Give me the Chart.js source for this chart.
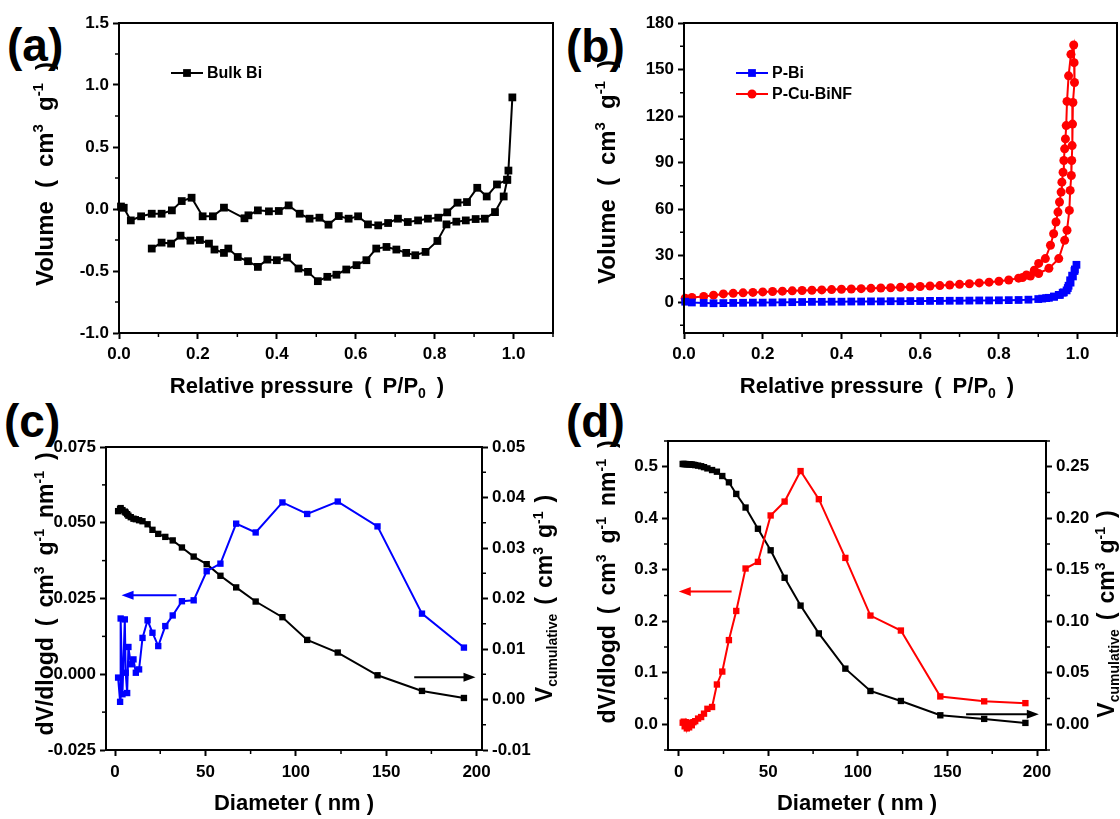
<!DOCTYPE html>
<html>
<head>
<meta charset="utf-8">
<script src="https://cdn.jsdelivr.net/npm/chart.js@4/dist/chart.umd.min.js"></script>
<style>
  html, body { margin: 0; padding: 0; background: #fff; }
  body { width: 1120px; height: 819px; position: relative; overflow: hidden; }
  canvas { position: absolute; }
  .tag { position: absolute; font: bold 46px "Liberation Sans", Arial, sans-serif; line-height: 46px; color: #000; }
</style>
</head>
<body>
<div class="tag" style="left:7px;top:22px">(a)</div>
<div class="tag" style="left:566px;top:23px">(b)</div>
<div class="tag" style="left:4px;top:398px">(c)</div>
<div class="tag" style="left:566px;top:398px">(d)</div>
<canvas id="ca" width="560" height="400" style="left:0;top:0"></canvas>
<canvas id="cb" width="560" height="400" style="left:560px;top:0"></canvas>
<canvas id="cc" width="560" height="419" style="left:0;top:400px"></canvas>
<canvas id="cd" width="560" height="419" style="left:560px;top:400px"></canvas>
<script>
// (a) Bulk Bi isotherm
const bulkAdsX = [0.083, 0.108, 0.132, 0.156, 0.181, 0.205, 0.228, 0.242, 0.266, 0.277, 0.301, 0.327, 0.352, 0.376, 0.400, 0.426, 0.455, 0.479, 0.504, 0.528, 0.551, 0.576, 0.602, 0.627, 0.652, 0.678, 0.703, 0.728, 0.751, 0.777, 0.807, 0.830, 0.855, 0.879, 0.904, 0.927, 0.953, 0.975, 0.984, 0.987, 0.997];
const bulkAdsY = [-0.319, -0.271, -0.279, -0.215, -0.255, -0.250, -0.279, -0.327, -0.354, -0.319, -0.387, -0.421, -0.467, -0.408, -0.413, -0.392, -0.480, -0.507, -0.582, -0.547, -0.530, -0.488, -0.453, -0.413, -0.319, -0.306, -0.327, -0.354, -0.373, -0.346, -0.258, -0.124, -0.102, -0.092, -0.081, -0.078, -0.025, 0.101, 0.236, 0.310, 0.900];
const bulkDesX = [0.005, 0.012, 0.030, 0.056, 0.083, 0.108, 0.134, 0.159, 0.184, 0.212, 0.238, 0.266, 0.318, 0.328, 0.352, 0.380, 0.405, 0.430, 0.458, 0.483, 0.508, 0.531, 0.557, 0.582, 0.606, 0.631, 0.657, 0.682, 0.707, 0.732, 0.758, 0.783, 0.809, 0.832, 0.858, 0.882, 0.908, 0.932, 0.958, 0.984];
const bulkDesY = [0.020, 0.010, -0.092, -0.059, -0.038, -0.038, -0.011, 0.064, 0.091, -0.059, -0.059, 0.011, -0.075, -0.051, -0.011, -0.019, -0.016, 0.029, -0.038, -0.078, -0.070, -0.126, -0.057, -0.078, -0.059, -0.124, -0.132, -0.113, -0.078, -0.105, -0.092, -0.078, -0.070, -0.027, 0.051, 0.056, 0.171, 0.101, 0.198, 0.236];

// (b) P-Bi and P-Cu-BiNF isotherms (adsorption then desorption)
const pBiX = [0.003, 0.02, 0.05, 0.075, 0.1, 0.125, 0.15, 0.175, 0.2, 0.225, 0.25, 0.275, 0.3, 0.325, 0.35, 0.375, 0.4, 0.425, 0.45, 0.475, 0.5, 0.525, 0.55, 0.575, 0.6, 0.625, 0.65, 0.675, 0.7, 0.725, 0.75, 0.775, 0.8, 0.825, 0.85, 0.875, 0.9, 0.92, 0.94, 0.955, 0.965, 0.975, 0.982, 0.988, 0.993, 0.997, 0.992, 0.986, 0.981, 0.977, 0.972, 0.962, 0.952, 0.94, 0.927, 0.91];
const pBiY = [0.2, -0.3, -0.6, -0.8, -0.7, -0.6, -0.5, -0.4, -0.4, -0.3, -0.2, -0.1, 0.0, 0.1, 0.1, 0.2, 0.2, 0.3, 0.3, 0.4, 0.4, 0.5, 0.5, 0.6, 0.6, 0.7, 0.7, 0.8, 0.8, 0.9, 1.0, 1.0, 1.1, 1.2, 1.3, 1.5, 1.9, 2.5, 3.4, 4.6, 6.2, 9.0, 12.5, 16.5, 21.0, 24.0, 20.0, 17.0, 14.0, 10.5, 7.5, 6.0, 4.6, 3.5, 2.7, 2.2];
const pCuX = [0.003, 0.02, 0.05, 0.075, 0.1, 0.125, 0.15, 0.175, 0.2, 0.225, 0.25, 0.275, 0.3, 0.325, 0.35, 0.375, 0.4, 0.425, 0.45, 0.475, 0.5, 0.525, 0.55, 0.575, 0.6, 0.625, 0.65, 0.675, 0.7, 0.725, 0.75, 0.775, 0.8, 0.825, 0.85, 0.87, 0.89, 0.901, 0.918, 0.931, 0.939, 0.945, 0.95, 0.954, 0.958, 0.96, 0.963, 0.965, 0.967, 0.969, 0.971, 0.973, 0.977, 0.983, 0.99, 0.991, 0.992, 0.988, 0.987, 0.986, 0.985, 0.984, 0.981, 0.979, 0.973, 0.967, 0.952, 0.927, 0.901, 0.88, 0.86];
const pCuY = [2.4, 2.9, 3.6, 4.4, 5.2, 5.6, 5.9, 6.2, 6.5, 6.8, 7.0, 7.2, 7.4, 7.6, 7.8, 8.0, 8.2, 8.4, 8.6, 8.8, 9.0, 9.2, 9.5, 9.7, 10.0, 10.3, 10.6, 11.0, 11.4, 11.8, 12.3, 12.8, 13.4, 14.2, 15.4, 17.5, 20.5, 24.9, 28.0, 36.6, 44.0, 51.6, 58.0, 64.5, 70.9, 77.3, 83.7, 91.3, 98.8, 105.2, 113.8, 129.4, 145.9, 159.8, 165.8, 154.4, 141.6, 128.7, 114.8, 100.9, 91.3, 81.6, 72.0, 59.1, 46.3, 39.8, 28.0, 21.7, 18.4, 16.8, 15.8];

// (c) P-Bi pore size distribution
const cDiam = [1.7, 2.8, 3.1, 4.1, 5.4, 5.9, 6.7, 7.4, 8.7, 10.2, 11.5, 13.3, 15.2, 18, 20.7, 23.9, 27.8, 31.9, 37, 43.5, 50.7, 58.3, 67, 77.8, 92.6, 106.3, 123.2, 145.2, 169.8, 193];
const cDvDlogd = [-0.0011, -0.0091, 0.0184, -0.0066, 0.0181, 0.0005, -0.0062, 0.009, 0.0033, 0.0049, 0.0005, 0.0016, 0.012, 0.0178, 0.0137, 0.0093, 0.0159, 0.0194, 0.0241, 0.0244, 0.034, 0.0365, 0.0497, 0.0468, 0.0567, 0.0529, 0.057, 0.0488, 0.02, 0.0088];
const cCumul = [0.0373, 0.0377, 0.0379, 0.0375, 0.0372, 0.037, 0.0367, 0.0364, 0.0361, 0.0358, 0.0357, 0.0355, 0.0353, 0.0347, 0.0336, 0.0328, 0.0322, 0.0315, 0.0301, 0.0283, 0.0268, 0.0245, 0.0222, 0.0194, 0.0163, 0.0118, 0.0093, 0.0048, 0.0017, 0.0003];

// (d) P-Cu-BiNF pore size distribution
const dDiam = [2.2, 2.8, 3.3, 3.9, 4.5, 5.1, 5.8, 6.5, 7.3, 8.2, 9.2, 10.8, 12.5, 14.1, 16, 18.6, 21.3, 24.3, 28, 32.1, 37.3, 44.2, 51.3, 59.1, 68, 78.2, 93, 107, 124, 146, 170.5, 193.5];
const dDvDlogd = [0.003, 0.005, -0.004, 0.004, -0.008, 0.002, -0.006, 0.003, -0.002, 0.004, 0.006, 0.011, 0.014, 0.0206, 0.03, 0.0335, 0.0772, 0.1023, 0.1634, 0.22, 0.3024, 0.3153, 0.4054, 0.4324, 0.4916, 0.437, 0.323, 0.211, 0.182, 0.054, 0.0445, 0.041];
const dCumul = [0.2527, 0.2527, 0.2526, 0.2526, 0.2525, 0.2525, 0.2524, 0.2523, 0.2521, 0.2519, 0.2516, 0.2511, 0.2505, 0.2496, 0.2484, 0.2468, 0.2452, 0.241, 0.2349, 0.2236, 0.2104, 0.1898, 0.1689, 0.1422, 0.1152, 0.0882, 0.054, 0.0323, 0.0226, 0.0087, 0.0052, 0.0013];

// tick labels
const pressTicks = [0, 0.2, 0.4, 0.6, 0.8, 1.0];
const bulkTicks = [-1.0, -0.5, 0.0, 0.5, 1.0, 1.5];
const volTicks = [0, 30, 60, 90, 120, 150, 180];
const diamTicks = [0, 50, 100, 150, 200];
const cLeftTicks = [-0.025, 0, 0.025, 0.05, 0.075];
const cRightTicks = [-0.01, 0, 0.01, 0.02, 0.03, 0.04, 0.05];
const dLeftTicks = [0, 0.1, 0.2, 0.3, 0.4, 0.5];
const dRightTicks = [0, 0.05, 0.1, 0.15, 0.2, 0.25];

const FONT = '"Liberation Sans", Arial, Helvetica, sans-serif';
Chart.defaults.font.family = FONT;
Chart.defaults.color = '#000';

const BLUE = '#0000ff';
const RED = '#ff0000';

function pts(xs, ys) {
  return xs.map((x, i) => ({ x: x, y: ys[i] }));
}

function series(data, color, shape, r, axisId) {
  return {
    data: data, showLine: true, borderColor: color, backgroundColor: color,
    pointBackgroundColor: color, borderWidth: 2, pointStyle: shape, pointRadius: r,
    pointBorderWidth: 0, yAxisID: axisId || 'y', clip: false, tension: 0
  };
}

function axis(pos, min, max, ticks, dec, size, pad) {
  const horiz = pos === 'bottom';
  return {
    type: 'linear', position: pos, min: min, max: max,
    afterBuildTicks: s => { s.ticks = ticks.map(v => ({ value: v })); },
    afterFit: s => { if (horiz) s.height = size; else s.width = size; },
    grid: { drawOnChartArea: false, drawTicks: true, tickLength: 6, tickWidth: 2, tickColor: '#000' },
    border: { display: true, color: '#000', width: 2 },
    ticks: {
      autoSkip: false, maxRotation: 0, padding: pad, color: '#000',
      font: { size: 17, weight: 'bold' },
      callback: v => Number(v).toFixed(dec)
    }
  };
}

// text with super/subscripts and explicit gaps, centred on (cx, cy)
function drawRich(ctx, parts, cx, cy, size, rot) {
  const fontOf = p => 'bold ' + (p[1] ? Math.round(size * 0.62) : size) + 'px ' + FONT;
  const widthOf = p => p[1] === 'gap' ? p[2] : (ctx.font = fontOf(p), ctx.measureText(p[0]).width);
  ctx.save();
  ctx.translate(cx, cy);
  ctx.rotate(rot);
  ctx.fillStyle = '#000';
  ctx.textAlign = 'left';
  ctx.textBaseline = 'alphabetic';
  let w = 0;
  parts.forEach(p => { w += widthOf(p); });
  let x = -w / 2;
  parts.forEach(p => {
    const pw = widthOf(p);
    if (p[1] !== 'gap') {
      ctx.font = fontOf(p);
      const dy = p[1] === 'sup' ? -size * 0.42 : p[1] === 'sub' ? size * 0.22 : 0;
      ctx.fillText(p[0], x, size * 0.36 + dy);
    }
    x += pw;
  });
  ctx.restore();
}

function marker(ctx, shape, x, y, r, color) {
  ctx.fillStyle = color;
  ctx.beginPath();
  if (shape === 'circle') ctx.arc(x, y, r, 0, Math.PI * 2);
  else { const h = r * Math.SQRT1_2; ctx.rect(x - h, y - h, 2 * h, 2 * h); }
  ctx.fill();
}

function deco(cfg) {
  return {
    id: 'deco',
    afterDraw(chart) {
      const ctx = chart.ctx;
      const a = chart.chartArea;
      ctx.save();
      // frame
      ctx.strokeStyle = '#000';
      ctx.lineWidth = 2;
      ctx.strokeRect(a.left, a.top, a.right - a.left, a.bottom - a.top);
      // minor ticks
      ctx.lineWidth = 1.5;
      Object.keys(cfg.minor).forEach(id => {
        const s = chart.scales[id];
        const step = cfg.minor[id];
        const majors = s.ticks.map(t => t.value);
        let v = Math.ceil(s.min / step - 1e-6) * step;
        for (; v <= s.max + 1e-9; v += step) {
          if (majors.some(m => Math.abs(m - v) < step * 0.01)) continue;
          const p = s.getPixelForValue(v);
          ctx.beginPath();
          if (id === 'x') { ctx.moveTo(p, a.bottom); ctx.lineTo(p, a.bottom + 4); }
          else if (id === 'y') { ctx.moveTo(a.left, p); ctx.lineTo(a.left - 4, p); }
          else { ctx.moveTo(a.right, p); ctx.lineTo(a.right + 4, p); }
          ctx.stroke();
        }
      });
      // axis titles
      const mid = (a.top + a.bottom) / 2;
      const cx = cfg.xTitleX || (a.left + a.right) / 2;
      drawRich(ctx, cfg.xTitle, cx, cfg.xTitleY, 22, 0);
      drawRich(ctx, cfg.yTitle, cfg.yTitleX, cfg.yTitleY || mid, cfg.yTitleSize || 23, -Math.PI / 2);
      if (cfg.y2Title) drawRich(ctx, cfg.y2Title, cfg.y2TitleX, cfg.y2TitleY || mid, 23, -Math.PI / 2);
      // legend
      if (cfg.legend) {
        const L = cfg.legend;
        L.items.forEach((it, i) => {
          const y = L.y + i * L.dy;
          ctx.strokeStyle = it.color;
          ctx.lineWidth = 2;
          ctx.beginPath();
          ctx.moveTo(L.x, y); ctx.lineTo(L.x + 32, y);
          ctx.stroke();
          marker(ctx, it.shape, L.x + 16, y, it.r, it.color);
          ctx.fillStyle = '#000';
          ctx.font = 'bold 16px ' + FONT;
          ctx.textAlign = 'left';
          ctx.textBaseline = 'middle';
          ctx.fillText(it.label, L.x + 36, y + 1);
        });
      }
      // arrows pointing to the axis a curve belongs to
      (cfg.arrows || []).forEach(ar => {
        const sx = chart.scales.x, sy = chart.scales[ar.axis];
        const x1 = sx.getPixelForValue(ar.from), x2 = sx.getPixelForValue(ar.to);
        const y = sy.getPixelForValue(ar.at);
        const dir = Math.sign(x2 - x1);
        ctx.strokeStyle = ar.color;
        ctx.fillStyle = ar.color;
        ctx.lineWidth = 2;
        ctx.beginPath();
        ctx.moveTo(x1, y); ctx.lineTo(x2 - dir * 9, y);
        ctx.stroke();
        ctx.beginPath();
        ctx.moveTo(x2, y);
        ctx.lineTo(x2 - dir * 12, y - 4.5);
        ctx.lineTo(x2 - dir * 12, y + 4.5);
        ctx.closePath();
        ctx.fill();
      });
      ctx.restore();
    }
  };
}

function makeChart(id, datasets, scales, padding, cfg) {
  return new Chart(document.getElementById(id), {
    type: 'scatter',
    data: { datasets: datasets },
    options: {
      responsive: false, animation: false, events: [],
      layout: { padding: padding, autoPadding: false },
      plugins: { legend: { display: false }, tooltip: { enabled: false } },
      scales: scales
    },
    plugins: [deco(cfg)]
  });
}

const gap = w => ['', 'gap', w];
const volTitle = [['Volume'], gap(13), ['('], gap(13), ['cm'], ['3', 'sup'], gap(13), ['g'], ['-1', 'sup'], gap(13), [')']];
const pressTitle = [['Relative pressure'], gap(11), ['('], gap(11), ['P/P'], ['0', 'sub'], gap(11), [')']];
const diamTitle = [['Diameter ( nm )']];
const dvTitle = [['dV/dlogd'], gap(11), ['('], gap(11), ['cm'], ['3', 'sup'], gap(11), ['g'], ['-1', 'sup'], gap(11), ['nm'], ['-1', 'sup'], gap(11), [')']];
const cumTitle = [['V'], ['cumulative', 'sub'], gap(9), ['('], gap(9), ['cm'], ['3', 'sup'], gap(9), ['g'], ['-1', 'sup'], gap(9), [')']];

// (a)
makeChart('ca', [
  series(pts(bulkAdsX, bulkAdsY), '#000', 'rect', 5.5),
  series(pts(bulkDesX, bulkDesY), '#000', 'rect', 5.5)
], {
  x: axis('bottom', 0, 1.1, pressTicks, 1, 67, 5),
  y: axis('left', -1.0, 1.5, bulkTicks, 1, 119, 4)
}, { top: 23, right: 7, bottom: 0, left: 0 }, {
  minor: { x: 0.1, y: 0.25 },
  xTitle: pressTitle, xTitleX: 307, xTitleY: 385,
  yTitle: volTitle, yTitleX: 44, yTitleY: 174, yTitleSize: 24,
  legend: { x: 171, y: 73, dy: 21, items: [{ label: 'Bulk Bi', color: '#000', shape: 'rect', r: 5.5 }] }
});

// (b)
makeChart('cb', [
  series(pts(pBiX, pBiY), BLUE, 'rect', 5.5),
  series(pts(pCuX, pCuY), RED, 'circle', 4.5)
], {
  x: axis('bottom', 0, 1.1, pressTicks, 1, 67, 5),
  y: axis('left', -20, 180, volTicks, 0, 124, 4)
}, { top: 23, right: 3, bottom: 0, left: 0 }, {
  minor: { x: 0.1, y: 15 },
  xTitle: pressTitle, xTitleX: 317, xTitleY: 385,
  yTitle: volTitle, yTitleX: 46, yTitleY: 172, yTitleSize: 24,
  legend: { x: 176, y: 73, dy: 21, items: [
    { label: 'P-Bi', color: BLUE, shape: 'rect', r: 5.5 },
    { label: 'P-Cu-BiNF', color: RED, shape: 'circle', r: 4.5 }
  ] }
});

// (c)
makeChart('cc', [
  series(pts(cDiam, cDvDlogd), BLUE, 'rect', 4.5, 'y'),
  series(pts(cDiam, cCumul), '#000', 'rect', 4.5, 'y2')
], {
  x: axis('bottom', -5, 203, diamTicks, 0, 69, 6),
  y: axis('left', -0.025, 0.075, cLeftTicks, 3, 106, 4),
  y2: axis('right', -0.01, 0.05, cRightTicks, 2, 78, 4)
}, { top: 47, right: 0, bottom: 0, left: 0 }, {
  minor: { x: 25, y: 0.0125, y2: 0.005 },
  xTitle: diamTitle, xTitleY: 402, yTitle: dvTitle, yTitleX: 45, yTitleY: 194,
  y2Title: cumTitle, y2TitleX: 544,
  arrows: [
    { axis: 'y', from: 34, to: 3.6, at: 0.0261, color: BLUE },
    { axis: 'y2', from: 165.5, to: 199.4, at: 0.0044, color: '#000' }
  ]
});

// (d)
makeChart('cd', [
  series(pts(dDiam, dDvDlogd), RED, 'rect', 4.5, 'y'),
  series(pts(dDiam, dCumul), '#000', 'rect', 4.5, 'y2')
], {
  x: axis('bottom', -6, 205, diamTicks, 0, 69, 6),
  y: axis('left', -0.05, 0.55, dLeftTicks, 1, 108, 4),
  y2: axis('right', -0.025, 0.275, dRightTicks, 2, 74, 4)
}, { top: 41, right: 0, bottom: 0, left: 0 }, {
  minor: { x: 25, y: 0.05, y2: 0.025 },
  xTitle: diamTitle, xTitleY: 402, yTitle: dvTitle, yTitleX: 47, yTitleY: 182,
  y2Title: cumTitle, y2TitleX: 546, y2TitleY: 214,
  arrows: [
    { axis: 'y', from: 29.5, to: 0, at: 0.258, color: RED },
    { axis: 'y2', from: 160.4, to: 201, at: 0.0097, color: '#000' }
  ]
});
</script>
</body>
</html>
